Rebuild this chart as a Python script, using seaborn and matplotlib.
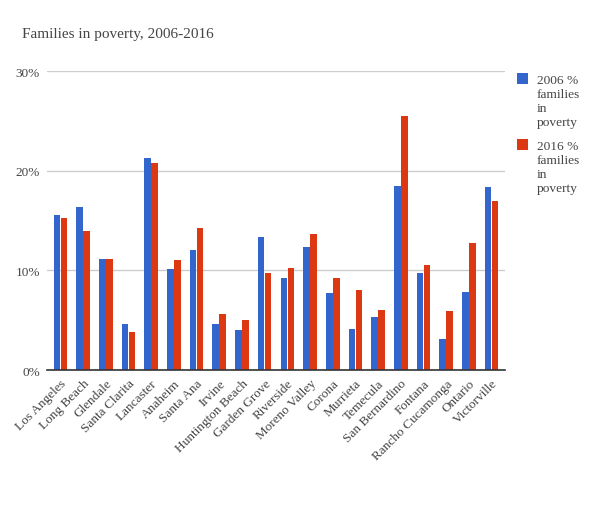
import pandas as pd
import matplotlib.pyplot as plt
import seaborn as sns
from matplotlib.patches import Rectangle

# Data (percent of families in poverty)
cities = ['Los Angeles', 'Long Beach', 'Glendale', 'Santa Clarita', 'Lancaster',
          'Anaheim', 'Santa Ana', 'Irvine', 'Huntington Beach', 'Garden Grove',
          'Riverside', 'Moreno Valley', 'Corona', 'Murrieta', 'Temecula',
          'San Bernardino', 'Fontana', 'Rancho Cucamonga', 'Ontario', 'Victorville']
pct_2006 = [15.6, 16.4, 11.1, 4.6, 21.3, 10.1, 12.0, 4.6, 4.0, 13.4,
            9.2, 12.3, 7.7, 4.1, 5.3, 18.5, 9.7, 3.1, 7.8, 18.4]
pct_2016 = [15.3, 14.0, 11.1, 3.8, 20.8, 11.0, 14.3, 5.6, 5.0, 9.7,
            10.2, 13.7, 9.2, 8.0, 6.0, 25.5, 10.5, 5.9, 12.8, 17.0]
series = ['2006 % families in poverty', '2016 % families in poverty']
legend_labels = ['2006 %\nfamilies\nin\npoverty', '2016 %\nfamilies\nin\npoverty']
colors = ['#3366cc', '#dc3912']

df = pd.DataFrame({'City': cities * 2,
                   'Pct': pct_2006 + pct_2016,
                   'Series': [series[0]] * len(cities) + [series[1]] * len(cities)})

sns.set_style('white')
plt.rcParams['font.family'] = ['Liberation Serif', 'DejaVu Serif']

fig = plt.figure(figsize=(6, 5.1), dpi=100)
ax = fig.add_axes([0.078, 0.2725, 0.764, 0.586])

sns.barplot(data=df, x='City', y='Pct', hue='Series', palette=colors,
            width=0.62, gap=0.06, ax=ax, legend=False, saturation=1,
            linewidth=0)

ax.set_ylim(0, 30)
ax.set_xlim(-0.6, len(cities) - 0.4)
ax.set_yticks([0, 10, 20, 30])
ax.set_yticklabels(['0%', '10%', '20%', '30%'], fontsize=9.5, color='#444444')
ax.yaxis.grid(True, color='#cccccc', linewidth=1)
ax.set_axisbelow(True)
for s in ['top', 'right', 'left']:
    ax.spines[s].set_visible(False)
ax.spines['bottom'].set_color('#333333')
ax.spines['bottom'].set_linewidth(1.2)
ax.tick_params(axis='both', length=0, pad=5)
ax.set_xticks(range(len(cities)))
ax.set_xticklabels(cities, rotation=45, ha='right', rotation_mode='anchor',
                   fontsize=9.5, color='#444444')
ax.set_xlabel('')
ax.set_ylabel('')

fig.text(0.037, 0.933, 'Families in poverty, 2006-2016', fontsize=11,
         color='#444444', va='center')

# legend on the right: square at the top of each text block
for i, (lab, c) in enumerate(zip(legend_labels, colors)):
    top = 74 + i * 66
    fig.patches.append(Rectangle((517 / 600, 1 - (top + 11) / 510), 11 / 600, 11 / 510,
                                 transform=fig.transFigure, facecolor=c, edgecolor='none'))
    fig.text(537 / 600, 1 - (top + 1) / 510, lab, fontsize=9.6, color='#444444',
             va='top', ha='left', linespacing=1.22)

fig.savefig('out.png', dpi=100)
